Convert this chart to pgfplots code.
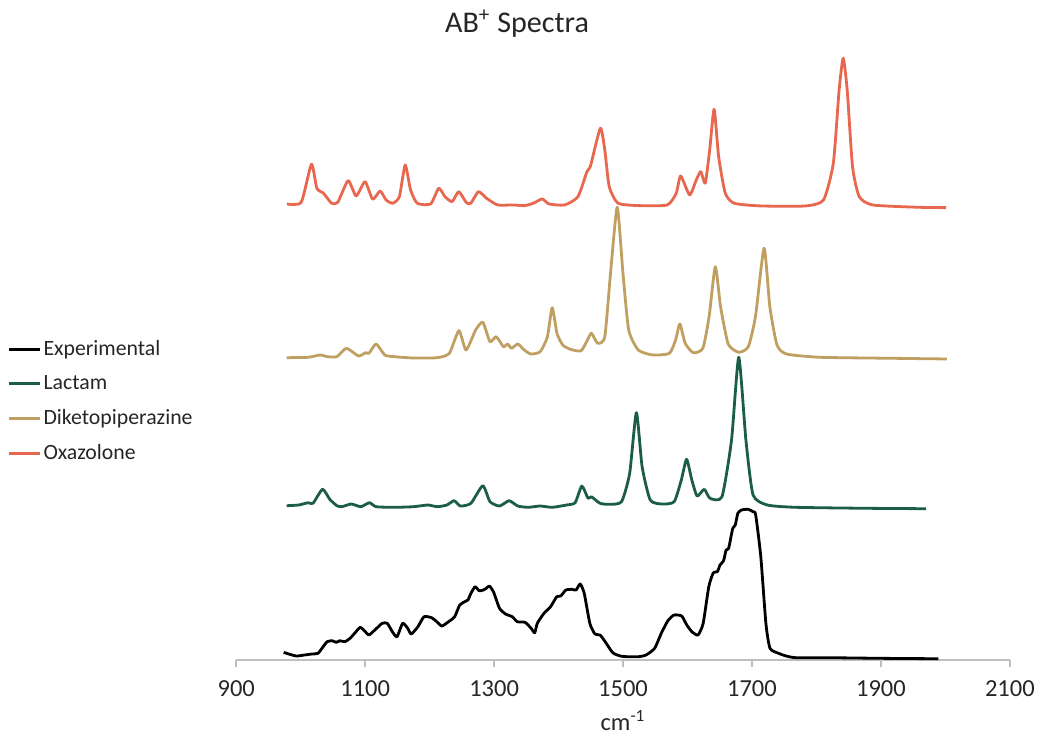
\documentclass[border=0pt]{standalone}
\usepackage{pgfplots}
\pgfplotsset{compat=1.18}
\usepackage{pgfplotstable}
\usepackage{fontspec}
\setmainfont{Carlito}

\definecolor{expcol}{HTML}{000000}
\definecolor{lactcol}{HTML}{1B5E45}
\definecolor{dkpcol}{HTML}{C0A062}
\definecolor{oxacol}{HTML}{E8674F}
\definecolor{axcol}{HTML}{BFBFBF}
\definecolor{txtcol}{HTML}{262626}

% Spectra (wavenumber, offset intensity)
\pgfplotstableread{
x y
973.6 7.7
981.6 6
993.4 4
1005.3 5
1017.2 6
1026.7 6.7
1033.0 11.7
1040.9 18.3
1048.8 19.3
1055.2 17.7
1060.7 19.3
1068.6 18.3
1076.5 21.7
1084.4 27.3
1092.4 32.7
1100.3 28.3
1105.8 25
1116.1 30.7
1126.4 36.7
1134.3 36.7
1142.2 28.3
1149.4 23.3
1158.1 36.7
1166.0 31.7
1171.5 26
1181.8 33.3
1191.3 43.3
1203.2 42.3
1211.1 38.3
1219.0 34
1229.3 38.3
1238.8 43.3
1246.7 55
1254.6 58.3
1259.4 60
1264.1 66.7
1270.5 73.3
1276.8 69.3
1283.1 70
1287.9 71.7
1292.6 74
1299.0 68.3
1308.4 51.7
1317.9 46
1328.2 43.3
1336.1 38.3
1348.0 37.7
1357.5 31.7
1363.0 27.3
1367.0 36.7
1377.3 46.7
1387.6 53.3
1397.1 63.3
1403.4 64
1411.3 70
1420.8 70.7
1427.2 70
1433.5 76
1439.8 66.7
1448.5 36.7
1456.5 26
1464.4 25
1472.3 18.3
1484.1 7.3
1496.0 4
1507.9 3.3
1523.7 3.3
1535.6 5
1549.0 11.7
1559.3 26.7
1569.6 39.3
1579.1 45
1591.0 44
1598.9 35
1606.8 28.3
1616.3 25
1624.3 36.7
1633.0 73.3
1640.1 87.3
1646.4 88.3
1650.4 95
1655.9 99.3
1659.9 110
1663.8 111.7
1670.2 131.7
1674.1 135
1678.1 146.7
1683.6 150
1693.9 150.7
1701.8 148.3
1705.8 145
1713.7 103.3
1721.6 36.7
1728.0 11.7
1741.4 6.7
1753.3 4
1769.1 2.3
1824.5 2.3
1903.6 1.7
1989.1 1.3
}\expdata

\pgfplotstableread{
x y
978.3 154.3
996.8 155
1011.7 157.3
1019.1 156.7
1033.9 170.7
1045.1 160.7
1056.2 154.3
1063.6 153.3
1078.4 156
1093.3 153.3
1106.6 157.3
1117.0 153.3
1145.2 152.7
1174.9 153.3
1197.2 155
1212.0 153.3
1226.8 155
1238.0 159.3
1247.6 154
1264.0 156.7
1282.5 174.3
1293.6 158.3
1308.5 154
1323.3 159.3
1336.7 154
1353.0 152.7
1371.5 154
1390.1 152.7
1412.3 155
1425.7 157.3
1436.1 174
1445.7 161.7
1450.9 163.3
1464.3 156.7
1479.1 155.7
1497.7 158.3
1510.3 186.7
1520.7 247.3
1529.6 193.3
1542.2 160
1560.7 156
1579.3 158.3
1590.4 180
1598.6 200.7
1606.7 180
1614.9 164
1626.0 170.7
1634.9 161.7
1653.5 163.3
1668.3 220
1679.5 302.7
1690.6 220
1701.7 165
1724.0 155
1768.5 152.7
1879.8 151.7
1970.3 151.3
}\lactdata

\pgfplotstableread{
x y
978.3 302.3
1011.7 302.7
1030.2 305
1041.3 303.3
1056.2 303.3
1071.0 311.7
1089.6 304
1100.7 307.3
1105.9 306.7
1117.0 316
1130.4 305
1145.2 303.3
1174.9 302
1212.0 302.3
1230.6 306.7
1245.4 329.3
1256.5 310
1271.4 330
1282.5 337.7
1293.6 318.3
1303.3 323.3
1314.4 313.3
1321.1 316
1327.0 311.7
1336.7 316
1345.6 310.7
1356.7 306
1371.5 308.3
1382.7 323.3
1390.1 352.3
1397.5 326.7
1406.4 315
1418.3 310.7
1434.6 309
1443.5 318.3
1450.9 326.7
1460.6 316.7
1471.7 323.3
1480.6 386.7
1491.0 452.7
1499.9 386.7
1508.8 330
1523.6 310
1545.9 305
1571.9 306.7
1581.5 320
1588.2 336
1596.4 316.7
1609.0 307.3
1623.8 311.7
1633.5 343.3
1643.1 393.3
1651.3 353.3
1663.1 316
1679.5 307.7
1694.3 313.3
1705.4 343.3
1718.8 411.7
1727.7 353.3
1738.8 315
1753.7 306
1805.6 302.7
1916.9 301.7
2002.2 301
}\dkpdata

\pgfplotstableread{
x y
978.6 456
1000.8 457.7
1016.7 495.7
1025.0 471.7
1035.4 466.7
1047.9 456.7
1057.6 457.7
1073.5 479.3
1086.0 464
1099.8 478.3
1111.6 460.7
1123.3 469
1132.4 460
1142.7 456.7
1153.1 463.3
1162.1 495
1170.4 470
1180.8 456.7
1201.6 456
1214.1 471.7
1223.8 463.3
1234.8 458.3
1245.2 468.3
1257.0 457.3
1263.9 456.7
1275.7 468.3
1288.2 461.7
1305.5 455
1329.7 455
1347.0 454.3
1360.9 456.7
1374.7 461
1385.1 456
1409.4 455
1430.1 463.3
1444.0 488.3
1449.5 494
1464.8 531.7
1471.7 510
1478.6 473.3
1492.4 456.7
1527.1 454.3
1568.6 455
1582.5 466.7
1589.4 484
1603.3 465
1613.6 480
1620.6 488.3
1627.5 476.7
1634.4 510
1641.3 550.7
1648.3 503.3
1658.6 466.7
1672.5 456.7
1714.0 454
1783.3 454
1811.0 460
1826.2 496.7
1835.2 570
1841.5 601.7
1847.7 570
1856.0 493.3
1866.4 463.3
1887.2 455
1956.4 452.7
2001.3 452.3
}\oxadata

\begin{document}
\begin{tikzpicture}[x=1pt,y=1pt]
\useasboundingbox (0,0) rectangle (500,354.9);
\begin{axis}[
  at={(113.9pt,36.65pt)}, anchor=south west,
  scale only axis, width=373pt, height=299pt,
  xmin=900, xmax=2100, ymin=0, ymax=620,
  axis y line=none, axis x line*=bottom,
  x axis line style={draw=axcol, line width=0.8pt, -},
  xtick={900,1100,...,2100},
  xtick align=outside, major tick length=3.4pt,
  xtick style={draw=axcol, line width=0.8pt},
  xticklabel style={font=\fontsize{11.8}{13}\selectfont, text=txtcol, yshift=-3pt},
  /pgf/number format/assume math mode=true,
  /pgf/number format/set thousands separator={},
  xlabel={cm\textsuperscript{-1}},
  xlabel style={font=\fontsize{11.8}{13}\selectfont, text=txtcol, at={(axis description cs:0.5,-0.097)}, anchor=center},
  title={AB\textsuperscript{+} Spectra},
  title style={font=\fontsize{14.5}{16}\selectfont, text=txtcol, at={(axis description cs:0.363,1.006)}, anchor=center},
  clip=false,
  legend style={at={(axis description cs:-0.296,0.52)}, anchor=north west,
    draw=none, fill=none, font=\fontsize{10.5}{12}\selectfont, text=txtcol,
    row sep=6.2pt, inner sep=0pt,
    nodes={inner sep=1pt, anchor=west}},
  legend cell align=left,
  legend image code/.code={\draw[#1, line width=1.3pt] (0pt,0pt) -- (15pt,0pt);},
  every axis plot/.append style={line width=1.35pt, line join=round, smooth, tension=0.35, mark=none},
]
\addplot[expcol] table[x=x,y=y] {\expdata};
\addlegendentry{Experimental}
\addplot[lactcol] table[x=x,y=y] {\lactdata};
\addlegendentry{Lactam}
\addplot[dkpcol] table[x=x,y=y] {\dkpdata};
\addlegendentry{Diketopiperazine}
\addplot[oxacol] table[x=x,y=y] {\oxadata};
\addlegendentry{Oxazolone}
\end{axis}
\end{tikzpicture}
\end{document}
